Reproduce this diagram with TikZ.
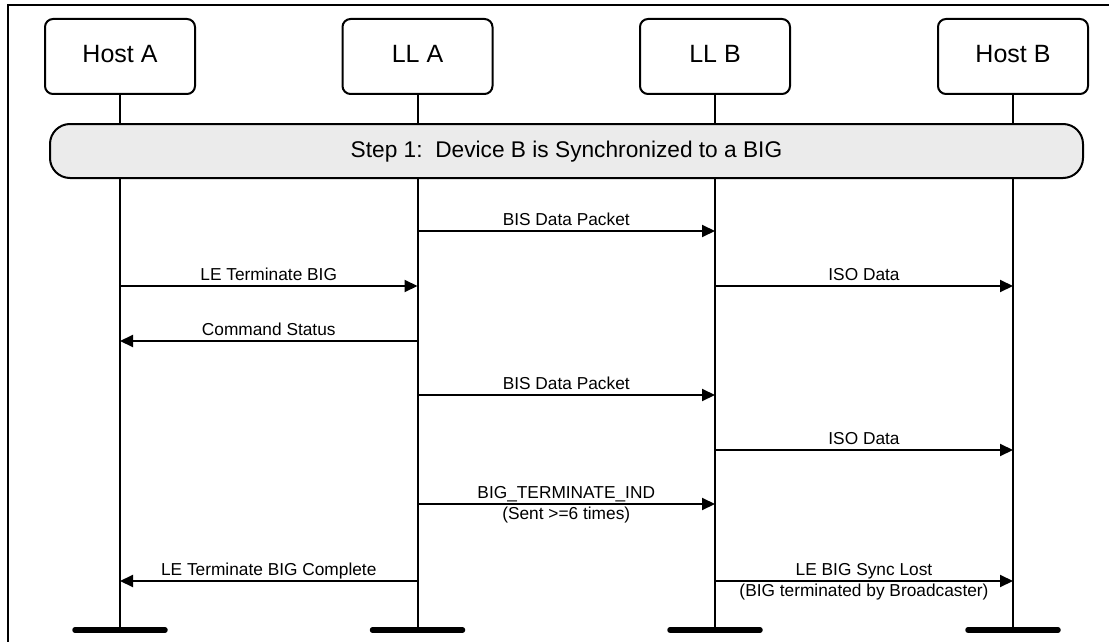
\documentclass[tikz,border=0pt]{standalone}
\usepackage{fontspec}
\setmainfont{Liberation Sans}
\usetikzlibrary{arrows.meta}
\definecolor{bannerfill}{HTML}{EBEBEB}
\begin{document}
\begin{tikzpicture}[x=1pt,y=-1pt,
  actor/.style={draw,line width=2pt,rounded corners=8pt,minimum width=150pt,minimum height=75pt,inner sep=0pt,text height=18pt,text depth=5pt,font=\fontsize{25}{30}\selectfont},
  life/.style={line width=2pt},
  msg/.style={line width=2pt,-{Triangle[length=13pt,width=12pt]}},
  lbl/.style={font=\fontsize{17.3}{20}\selectfont,inner sep=0pt,anchor=base},
  above lbl/.style={lbl,yshift=6pt},
  below lbl/.style={lbl,yshift=-15.5pt},
  bar/.style={line width=5.5pt,line cap=round},
  banner/.style={draw,line width=2pt,fill=bannerfill,rounded corners=20pt,minimum width=1033pt,minimum height=54pt,inner sep=0pt,text height=16pt,text depth=4pt,font=\fontsize{22.7}{27}\selectfont}]
\useasboundingbox (0,0) rectangle (1109,642);
% frame
\coordinate (fbl) at (8,642);
\coordinate (ftl) at (8,5);
\coordinate (ftr) at (1109,5);
\draw[line width=2.5pt] (fbl) -- (ftl) -- (ftr);
% actors
\node[actor] (hA) at (120,56.5) {Host A};
\node[actor] (llA) at (417.5,56.5) {LL A};
\node[actor] (llB) at (715,56.5) {LL B};
\node[actor] (hB) at (1013,56.5) {Host B};
% lifeline ends
\coordinate (hAe) at (120,630);
\coordinate (llAe) at (417.5,630);
\coordinate (llBe) at (715,630);
\coordinate (hBe) at (1013,630);
\draw[life] (hA) -- (hAe);
\draw[life] (llA) -- (llAe);
\draw[life] (llB) -- (llBe);
\draw[life] (hB) -- (hBe);
% bottom bars
\foreach \e in {hAe,llAe,llBe,hBe}{
  \draw[bar] ([xshift=-45pt]\e) -- ([xshift=45pt]\e);
}
% banner
\node[banner] (step) at (566.5,151) {Step 1:\ \ Device B is Synchronized to a BIG};
% message anchor points
\coordinate (a1) at (417.5,231); \coordinate (b1) at (715,231);
\coordinate (h2) at (120,286); \coordinate (a2) at (417.5,286);
\coordinate (b2) at (715,286); \coordinate (g2) at (1013,286);
\coordinate (h3) at (120,341); \coordinate (a3) at (417.5,341);
\coordinate (a4) at (417.5,395); \coordinate (b4) at (715,395);
\coordinate (b5) at (715,450); \coordinate (g5) at (1013,450);
\coordinate (a6) at (417.5,504); \coordinate (b6) at (715,504);
\coordinate (h7) at (120,581); \coordinate (a7) at (417.5,581);
\coordinate (b7) at (715,581); \coordinate (g7) at (1013,581);
% messages
\draw[msg] (a1) -- node[above lbl]{BIS Data Packet} (b1);
\draw[msg] (h2) -- node[above lbl]{LE Terminate BIG} (a2);
\draw[msg] (b2) -- node[above lbl]{ISO Data} (g2);
\draw[msg] (a3) -- node[above lbl]{Command Status} (h3);
\draw[msg] (a4) -- node[above lbl]{BIS Data Packet} (b4);
\draw[msg] (b5) -- node[above lbl]{ISO Data} (g5);
\draw[msg] (a6) -- node[above lbl]{BIG\_TERMINATE\_IND} node[below lbl]{(Sent >=6 times)} (b6);
\draw[msg] (a7) -- node[above lbl]{LE Terminate BIG Complete} (h7);
\draw[msg] (b7) -- node[above lbl]{LE BIG Sync Lost} node[below lbl]{(BIG terminated by Broadcaster)} (g7);
\end{tikzpicture}
\end{document}
